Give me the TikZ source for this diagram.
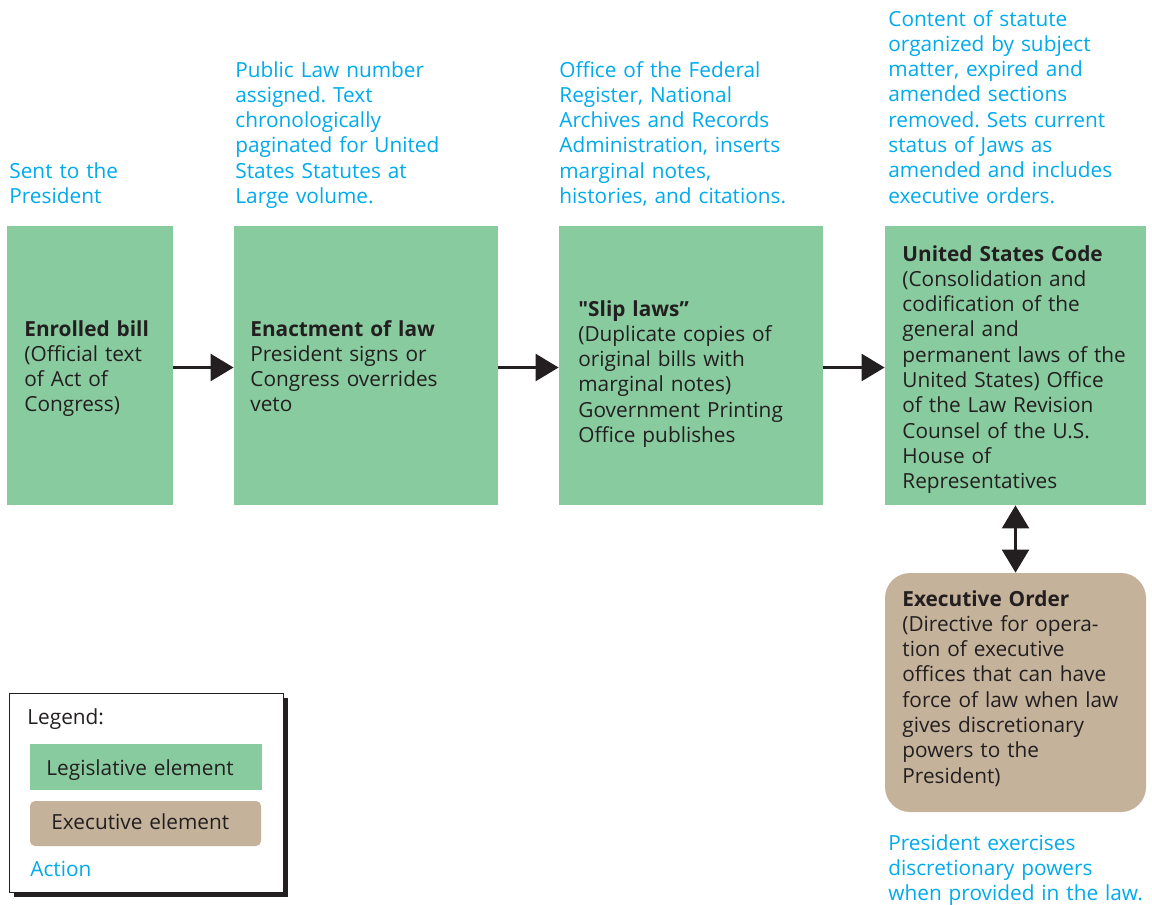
\documentclass[tikz,border=0pt]{standalone}
\usepackage{fontspec}
\setmainfont{Open Sans}[Ligatures=TeXOff]
\usetikzlibrary{arrows.meta,fit}
\definecolor{legis}{HTML}{88CB9E}
\definecolor{execc}{HTML}{C4B29A}
\definecolor{action}{HTML}{00AAEC}
\definecolor{ink}{HTML}{231F20}
\frenchspacing
\tikzset{
  txt/.style={anchor=base west, inner sep=0pt, text width=160pt, align=left,
    font=\fontsize{10.4}{12.65}\selectfont},
  acttxt/.style={txt, text=action},
  boxtxt/.style={txt, text=ink},
  legbox/.style={fill=legis, inner sep=0pt},
  exbox/.style={fill=execc, inner sep=0pt, rounded corners=12.5pt},
  flow/.style={-{Triangle[length=11.5pt,width=13.5pt]}, line width=1.2pt, draw=ink},
  both/.style={{Triangle[length=11.5pt,width=13.5pt]}-{Triangle[length=11.5pt,width=13.5pt]}, line width=1.2pt, draw=ink}
}
\begin{document}
\begin{tikzpicture}[x=0.5pt,y=-0.5pt]
\useasboundingbox (0,0) rectangle (1152,905);
% boxes
\node[legbox, fit={(7,226) (173,505)}] (bill) {};
\node[legbox, fit={(234,226) (498,505)}] (law) {};
\node[legbox, fit={(559,226) (823,505)}] (slip) {};
\node[legbox, fit={(885,226) (1146,505)}] (code) {};
\node[exbox, fit={(885,573) (1146,812)}] (order) {};
% arrows
\draw[flow] ([yshift=-1pt]bill.east) -- ([yshift=-1pt]law.west);
\draw[flow] ([yshift=-1pt]law.east) -- ([yshift=-1pt]slip.west);
\draw[flow] ([yshift=-1pt]slip.east) -- ([yshift=-1pt]code.west);
\draw[both] (code) -- (order);
% box texts
\node[boxtxt] (billtxt) at (24,336) {\textbf{Enrolled bill}\\(Official text\\of Act of\\Congress)};
\node[boxtxt] (lawtxt) at (250,336) {\textbf{Enactment of law}\\President signs or\\Congress overrides\\veto};
\node[boxtxt] (sliptxt) at (578,316) {\textbf{"Slip laws”}\\(Duplicate copies of\\original bills with\\marginal notes)\\Government Printing\\Office publishes};
\node[boxtxt] (codetxt) at (902,261) {\textbf{United States Code}\\(Consolidation and\\codification of the\\general and\\permanent laws of the\\United States) Office\\of the Law Revision\\Counsel of the U.S.\\House of\\Representatives};
\node[boxtxt] (ordertxt) at (902,606) {\textbf{Executive Order}\\(Directive for opera-\\tion of executive\\offices that can have\\force of law when law\\gives discretionary\\powers to the\\President)};
% action texts
\node[acttxt] (sent) at (9,178) {Sent to the\\President};
\node[acttxt] (number) at (235,77) {Public Law number\\assigned. Text\\chronologically\\paginated for United\\States Statutes at\\Large volume.};
\node[acttxt] (register) at (559,77) {Office of the Federal\\Register, National\\Archives and Records\\Administration, inserts\\marginal notes,\\histories, and citations.};
\node[acttxt] (content) at (888,26) {Content of statute\\organized by subject\\matter, expired and\\amended sections\\removed. Sets current\\status of Jaws as\\amended and includes\\executive orders.};
\node[acttxt] (powers) at (888,850) {President exercises\\discretionary powers\\when provided in the law.};
% legend
\fill[ink] (14,698) rectangle (288,897);
\draw[fill=white, draw=ink, line width=0.5pt] (9,693) rectangle (283,892);
\node[legbox, fit={(30,744) (262,790)}] (leglegis) {};
\node[legbox, fill=execc, rounded corners=2.5pt, fit={(30,801) (261,846)}] (legexec) {};
\node[boxtxt] (legtitle) at (27,724) {Legend:};
\node[boxtxt] at (46,775) {Legislative element};
\node[boxtxt] at (51,829) {Executive element};
\node[acttxt] at (30,876) {Action};
\end{tikzpicture}
\end{document}
